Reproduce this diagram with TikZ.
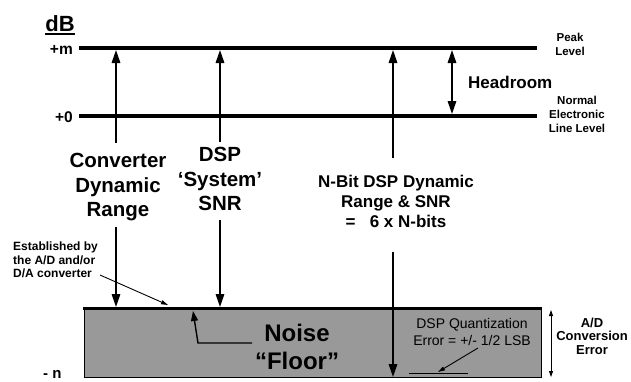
\documentclass[tikz,border=0pt]{standalone}
\usepackage{fontspec}
\setmainfont{Liberation Sans}
\usetikzlibrary{arrows.meta}
\definecolor{floorgray}{HTML}{999999}
\tikzset{
  lvl/.style={line width=4.5pt},
  bigarrow/.style={line width=1.6pt,-{Triangle[length=13pt,width=8.5pt]}},
  dblarrow/.style={line width=1.6pt,{Triangle[length=13pt,width=8.5pt]}-{Triangle[length=13pt,width=8.5pt]}},
  thinarrow/.style={line width=0.9pt,-{Triangle[length=7pt,width=4pt]}},
  lbl/.style={font=\bfseries, inner sep=0pt, align=center},
  plain/.style={inner sep=0pt, align=center},
}
\begin{document}
\begin{tikzpicture}[x=1pt,y=-1pt]
\useasboundingbox (0,0) rectangle (631,381);
% noise floor box
\draw[fill=floorgray, line width=0.8pt] (84,308) rectangle (541,377);
\draw[line width=3pt] (83,308) -- (542,308);
% level lines
\coordinate (mL) at (79,48); \coordinate (mR) at (537,48);
\coordinate (zL) at (79,116); \coordinate (zR) at (537,116);
\draw[lvl] (mL) -- (mR);
\draw[lvl] (zL) -- (zR);
% labels left
\node[lbl, font=\bfseries\fontsize{22}{24}\selectfont, anchor=base] (db) at (60,31) {dB};
\draw[line width=2pt] (db.south west |- 0,34) -- (db.south east |- 0,34);
\node[lbl, font=\bfseries\fontsize{15.5}{17}\selectfont, anchor=base east] (pm) at (73,54) {+m};
\node[lbl, font=\bfseries\fontsize{15.5}{17}\selectfont, anchor=base east] (p0) at (73,122) {+0};
\node[lbl, font=\bfseries\fontsize{15}{17}\selectfont, anchor=base west] (mn) at (43,378) {- n};
% right labels
\node[lbl, font=\bfseries\fontsize{11.5}{14}\selectfont] (peak) at (570,44) {Peak\\Level};
\node[lbl, font=\bfseries\fontsize{11.5}{14}\selectfont] (norm) at (577,114) {Normal\\Electronic\\Line Level};
\node[lbl, font=\bfseries\fontsize{17}{20}\selectfont, anchor=base west] (head) at (468,88) {Headroom};
% big labels
\node[lbl, font=\bfseries\fontsize{20.5}{24.5}\selectfont, anchor=north] (conv) at (118,153) {Converter\\Dynamic\\Range};
\node[lbl, font=\bfseries\fontsize{20.5}{24.5}\selectfont, anchor=north] (sys) at (220,147) {DSP\\‘System’\\SNR};
\node[lbl, font=\bfseries\fontsize{17}{20}\selectfont, anchor=north] (nbit) at (396,175) {N-Bit DSP Dynamic\\Range \& SNR\\=~~ 6 x N-bits};
% arrows
\coordinate (c1) at (116,143); \coordinate (c1t) at (116,50);
\coordinate (c2) at (116,227); \coordinate (c2t) at (116,307);
\coordinate (s1) at (220,142); \coordinate (s1t) at (220,50);
\coordinate (s2) at (220,220); \coordinate (s2t) at (220,307);
\coordinate (n1) at (393,158); \coordinate (n1t) at (393,50);
\coordinate (n2) at (393,252); \coordinate (n2t) at (393,377);
\coordinate (h1) at (452,50); \coordinate (h2) at (452,114);
\draw[bigarrow] (c1) -- (c1t);
\draw[bigarrow] (c2) -- (c2t);
\draw[bigarrow] (s1) -- (s1t);
\draw[bigarrow] (s2) -- (s2t);
\draw[bigarrow] (n1) -- (n1t);
\draw[bigarrow] (n2) -- (n2t);
\draw[dblarrow] (h1) -- (h2);
% established
\node[lbl, font=\bfseries\fontsize{12}{13.5}\selectfont, align=left, anchor=north west] (est) at (13,242) {Established by\\the A/D and/or\\D/A converter};
\coordinate (e1) at (100,275); \coordinate (e2) at (168,305);
\draw[thinarrow] (e1) -- (e2);
% noise floor
\node[lbl, font=\bfseries\fontsize{24}{28}\selectfont] (noise) at (297,347) {Noise\\“Floor”};
\coordinate (na) at (252,343); \coordinate (nb) at (198,343); \coordinate (nc) at (193,311);
\draw[line width=1.4pt, -{Triangle[length=10pt,width=7pt]}] (na) -- (nb) -- (nc);
% quantization
\node[plain, font=\fontsize{14}{17}\selectfont] (quant) at (472,332) {DSP Quantization\\Error = +/- 1/2 LSB};
\coordinate (q1) at (409,373); \coordinate (q2) at (468,373);
\draw[line width=0.8pt] (q1) -- (q2);
\coordinate (qa) at (478,348); \coordinate (qb) at (438,372);
\draw[thinarrow] (qa) -- (qb);
% A/D
\coordinate (ad1) at (551,310); \coordinate (ad2) at (551,377);
\draw[line width=0.8pt, {Triangle[length=6pt,width=4pt]}-{Triangle[length=6pt,width=4pt]}] (ad1) -- (ad2);
\node[lbl, font=\bfseries\fontsize{13}{13.5}\selectfont] (ad) at (592,336) {A/D\\Conversion\\Error};
\end{tikzpicture}
\end{document}
